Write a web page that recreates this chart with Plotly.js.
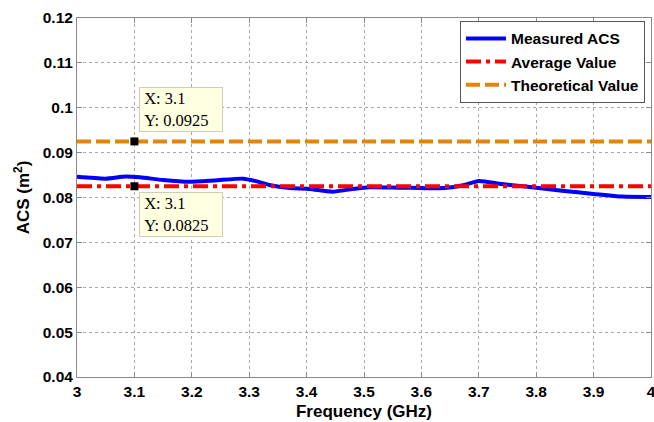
<!DOCTYPE html>
<html>
<head>
<meta charset="utf-8">
<script src="https://cdn.plot.ly/plotly-3.0.1.min.js"></script>
<style>html,body{margin:0;padding:0;background:#fff;}#chart{width:654px;height:422px;}</style>
</head>
<body>
<div id="chart"></div>
<script>
// Measured ACS (m^2) vs frequency (GHz)
const freq = [3.00,3.05,3.085,3.11,3.15,3.195,3.24,3.29,3.31,3.335,3.37,3.405,3.445,3.48,3.51,3.56,3.60,3.64,3.675,3.70,3.74,3.785,3.845,3.90,3.95,4.00];
const acs  = [0.0846,0.0842,0.0847,0.0845,0.0839,0.0835,0.0838,0.0842,0.0837,0.0828,0.0821,0.0819,0.0813,0.0819,0.0823,0.0822,0.0821,0.0821,0.0828,0.0837,0.0830,0.0824,0.0815,0.0808,0.0802,0.0801];
const rangeX = [3, 4];
const avgValue = 0.0825;
const theoValue = 0.0925;
const tipX = 3.1;
const xTicks = [3,3.1,3.2,3.3,3.4,3.5,3.6,3.7,3.8,3.9,4];
const xTickText = ['3','3.1','3.2','3.3','3.4','3.5','3.6','3.7','3.8','3.9','4'];
const yTicks = [0.04,0.05,0.06,0.07,0.08,0.09,0.1,0.11,0.12];
const yTickText = ['0.04','0.05','0.06','0.07','0.08','0.09','0.1','0.11','0.12'];

const sans = 'Liberation Sans, Arial, sans-serif';
const serif = 'Liberation Serif, Times New Roman, serif';
const nb = '\u00A0';

const traces = [
  {x: freq, y: acs, mode: 'lines', name: 'Measured ACS', line: {color: '#0000FF', width: 4, shape: 'spline', smoothing: 0.6}},
  {x: rangeX, y: [avgValue, avgValue], mode: 'lines', name: 'Average Value', line: {color: '#FF0000', width: 4, dash: '15px,5px,4px,5px'}},
  {x: rangeX, y: [theoValue, theoValue], mode: 'lines', name: 'Theoretical Value', line: {color: '#E2860B', width: 4, dash: '14px,5px'}},
  {x: [tipX, tipX], y: [theoValue, avgValue], mode: 'markers', showlegend: false, marker: {symbol: 'square', size: 8, color: '#000'}}
];

const axisCommon = {
  showline: true, mirror: 'allticks', linecolor: '#8a8a8a', linewidth: 1,
  ticks: 'inside', ticklen: 5, tickcolor: '#8a8a8a',
  showgrid: true, gridcolor: '#a8a8a8', griddash: 'dot', gridwidth: 1,
  zeroline: false, ticklabeloverflow: 'allow',
  tickfont: {family: sans, size: 15.5, color: '#000', weight: 'bold'}
};

function tip(yv, txt, up) {
  return {x: tipX, y: yv, xref: 'x', yref: 'y', text: txt, showarrow: false,
    xanchor: 'left', yanchor: up ? 'bottom' : 'top', xshift: 5, yshift: up ? 9 : -6,
    align: 'left', valign: 'middle', width: 82, height: 43,
    font: {family: serif, size: 16.5, color: '#000'},
    bgcolor: '#FFFFE1', bordercolor: '#cfcfb8', borderwidth: 1, borderpad: 0};
}

const layout = {
  width: 654, height: 422,
  margin: {l: 77, r: 3, t: 18, b: 45},
  paper_bgcolor: '#fff', plot_bgcolor: '#fff',
  showlegend: true,
  legend: {
    x: 0.9895, y: 0.992, xanchor: 'right', yanchor: 'top',
    bgcolor: '#fff', bordercolor: '#555', borderwidth: 1,
    font: {family: sans, size: 15.5, color: '#000', weight: 'bold'},
    itemwidth: 40, tracegroupgap: 0
  },
  xaxis: Object.assign({}, axisCommon, {
    range: rangeX, tickvals: xTicks, ticktext: xTickText,
    title: {text: 'Frequency (GHz)', font: {family: sans, size: 17, color: '#000', weight: 'bold'}, standoff: 6}
  }),
  yaxis: Object.assign({}, axisCommon, {
    range: [0.04, 0.12], tickvals: yTicks, ticktext: yTickText,
    title: {text: 'ACS (m<sup>2</sup>)', font: {family: sans, size: 17, color: '#000', weight: 'bold'}, standoff: 8}
  }),
  annotations: [
    tip(theoValue, nb + 'X: 3.1<br>' + nb + 'Y: 0.0925', true),
    tip(avgValue, nb + 'X: 3.1<br>' + nb + 'Y: 0.0825', false)
  ]
};

Plotly.newPlot('chart', traces, layout, {displayModeBar: false, staticPlot: true});
</script>
</body>
</html>
